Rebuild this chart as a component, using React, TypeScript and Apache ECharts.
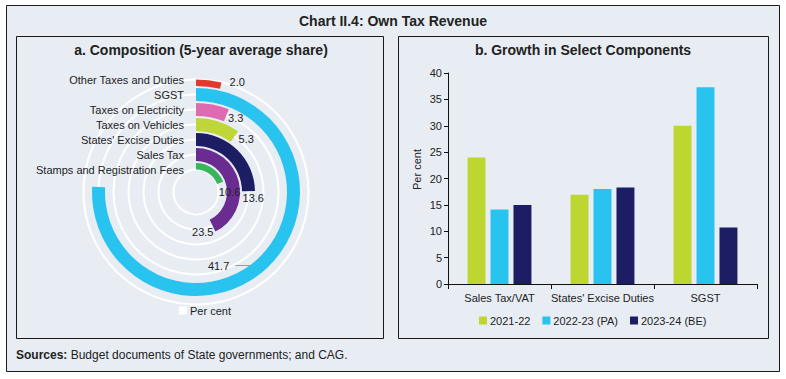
import React, { useEffect, useRef } from "react";
import * as echarts from "echarts";

const FONT = "'Liberation Sans', Arial, sans-serif";
const NARROW = "'Liberation Sans Narrow', 'Arial Narrow', 'Liberation Sans', sans-serif";
const BG = "#E8EDF4";
const TXT = "#222222";

// Panel a: composition (5-year average share), inner ring to outer ring
const compCategories = [
  "Stamps and Registration Fees",
  "Sales Tax",
  "States' Excise Duties",
  "Taxes on Vehicles",
  "Taxes on Electricity",
  "SGST",
  "Other Taxes and Duties",
];
const compShares = [10.6, 23.5, 13.6, 5.3, 3.3, 41.7, 2.0];
const compColors = ["#3BB45E", "#6A2C91", "#1C1D63", "#BFD638", "#DE6BB1", "#29C3EF", "#E1392E"];
const compAngleMax = 55;
// manual nudges of the value labels (as placed in the original)
const compLabelNudge = [[-3, 4], [-16, 4], [-6, 2], [0, 0], [-3, 1], [109, 84], [4, -5]];

// Panel b: growth in select components
const growthCategories = ["Sales Tax/VAT", "States' Excise Duties", "SGST"];
const growthSeriesNames = ["2021-22", "2022-23 (PA)", "2023-24 (BE)"];
const growth2122 = [24.0, 16.9, 30.0];
const growth2223 = [14.1, 18.0, 37.3];
const growth2324 = [15.0, 18.3, 10.7];
const growthColors = ["#BDD630", "#29C3EF", "#1C1D63"];
const growthTicks = { min: 0, max: 40, interval: 5 };

export default function App() {
  const ref = useRef<HTMLDivElement>(null);

  useEffect(() => {
    if (!ref.current) return;
    const chart = echarts.init(ref.current, null, { renderer: "svg" });
    const growthData = [growth2122, growth2223, growth2324];

    const option: any = {
      animation: false,
      textStyle: { fontFamily: FONT },
      graphic: [
        { type: "rect", z: -100, shape: { x: 6.5, y: 5.5, width: 773, height: 366 }, style: { fill: BG, stroke: "#1a1a1a", lineWidth: 1 } },
        { type: "rect", z: -99, shape: { x: 16.5, y: 36.5, width: 367, height: 302 }, style: { fill: "none", stroke: "#1a1a1a", lineWidth: 1 } },
        { type: "rect", z: -99, shape: { x: 398.5, y: 36.5, width: 370, height: 302 }, style: { fill: "none", stroke: "#1a1a1a", lineWidth: 1 } },
        { type: "text", x: 393, y: 21, style: { text: "Chart II.4: Own Tax Revenue", fontFamily: NARROW, fontWeight: "bold", fontSize: 14, fill: TXT, align: "center", verticalAlign: "middle" } },
        { type: "text", x: 201, y: 50, style: { text: "a. Composition (5-year average share)", fontFamily: FONT, fontWeight: "bold", fontSize: 14, fill: TXT, align: "center", verticalAlign: "middle" } },
        { type: "text", x: 583, y: 50, style: { text: "b. Growth in Select Components", fontFamily: FONT, fontWeight: "bold", fontSize: 14, fill: TXT, align: "center", verticalAlign: "middle" } },
        { type: "text", x: 16, y: 355, style: { text: "{b|Sources:} Budget documents of State governments; and CAG.", fontFamily: NARROW, fontSize: 12, fill: TXT, align: "left", verticalAlign: "middle", rich: { b: { fontFamily: NARROW, fontWeight: "bold", fontSize: 12, fill: TXT } } } },
        { type: "line", shape: { x1: 232, y1: 265.5, x2: 260, y2: 265.5 }, style: { stroke: "#9a9a9a", lineWidth: 1 } },
      ],
      legend: [
        {
          data: [{ name: "Per cent", itemStyle: { color: "#ffffff" } }],
          left: 174, top: 300, icon: "rect", itemWidth: 8, itemHeight: 8, itemGap: 4,
          textStyle: { fontSize: 11, color: TXT, fontFamily: FONT, padding: [0, 0, 0, -2] },
        },
        {
          data: growthSeriesNames,
          left: 474, top: 310, icon: "rect", itemWidth: 8, itemHeight: 8, itemGap: 12,
          textStyle: { fontSize: 11, color: TXT, fontFamily: FONT, padding: [0, 0, 0, -2] },
        },
      ],
      polar: { center: [196, 192], radius: [22.5, 112.5] },
      angleAxis: {
        type: "value", min: 0, max: compAngleMax, startAngle: 90, clockwise: true,
        axisLine: { show: false }, axisTick: { show: false }, axisLabel: { show: false }, splitLine: { show: false },
      },
      radiusAxis: {
        type: "category", data: compCategories, boundaryGap: false,
        axisLine: { show: true, lineStyle: { color: "#ffffff", width: 1 } },
        axisTick: { show: false },
        axisLabel: { interval: 0, fontSize: 11, color: TXT, margin: 12, fontFamily: FONT },
        splitLine: { show: true, interval: 0, lineStyle: { color: "#ffffff", width: 2 } },
      },
      grid: { left: 448, right: 29, top: 73, bottom: 95 },
      xAxis: {
        type: "category", data: growthCategories,
        axisLine: { lineStyle: { color: "#111", width: 1 } },
        axisTick: { show: true, length: 5, lineStyle: { color: "#111" } },
        axisLabel: { interval: 0, fontSize: 11, color: TXT, margin: 8, fontFamily: FONT },
      },
      yAxis: {
        type: "value", ...growthTicks,
        name: "Per cent", nameLocation: "middle", nameGap: 26,
        nameTextStyle: { fontSize: 11, color: TXT, fontFamily: FONT, padding: [0, 0, 0, 18] },
        axisLine: { show: true, lineStyle: { color: "#111", width: 1 } },
        axisTick: { show: true, length: 4, lineStyle: { color: "#111" } },
        axisLabel: { fontSize: 11, color: TXT, margin: 6, fontFamily: FONT },
        splitLine: { show: false },
      },
      series: [
        {
          type: "bar", name: "Per cent", coordinateSystem: "polar", barWidth: 13,
          data: compShares.map((v, i) => ({
            value: v,
            itemStyle: { color: compColors[i] },
            label: { offset: compLabelNudge[i] },
          })),
          label: { show: true, position: "end", rotate: 0, fontSize: 11, color: TXT, fontFamily: FONT, formatter: (p: any) => Number(p.value).toFixed(1) },
        },
        ...growthSeriesNames.map((name, i) => ({
          type: "bar", name, xAxisIndex: 0, yAxisIndex: 0,
          barGap: "28%", barCategoryGap: "38%",
          itemStyle: { color: growthColors[i] },
          data: growthData[i],
        })),
      ],
    };
    chart.setOption(option);
    return () => chart.dispose();
  }, []);

  return (
    <div style={{ position: "fixed", left: 0, top: 0, width: 786, height: 379, background: "#ffffff" }}>
      <div ref={ref} style={{ width: 786, height: 379 }} />
    </div>
  );
}
